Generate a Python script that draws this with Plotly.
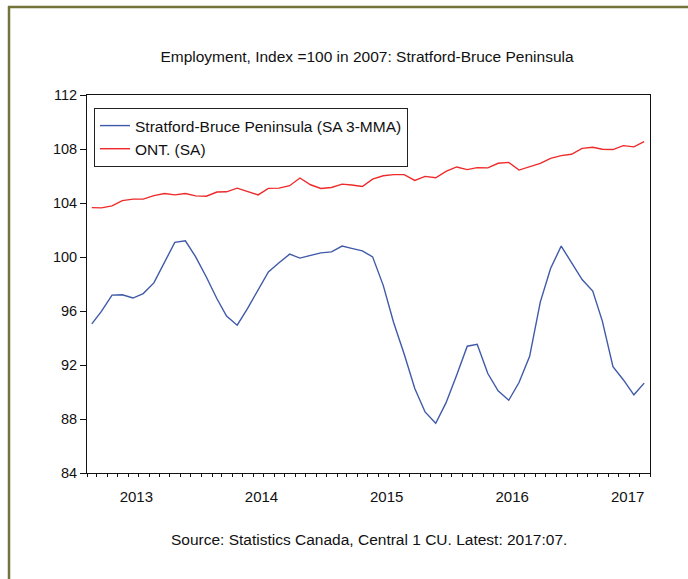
import pandas as pd
import plotly.graph_objects as go

# ---- data (monthly, Feb 2013 .. Jul 2017) ----
months = pd.date_range("2013-02-01", "2017-07-01", freq="MS") + pd.Timedelta(days=14)

stratford = [95.05, 95.97, 97.18, 97.20, 96.96, 97.29, 98.08, 99.59, 101.08, 101.20,
             100.01, 98.52, 96.91, 95.62, 94.95, 96.17, 97.58, 98.90, 99.57, 100.21,
             99.92, 100.11, 100.31, 100.38, 100.81, 100.64, 100.46, 100.01, 97.90, 95.17,
             92.82, 90.26, 88.52, 87.68, 89.19, 91.25, 93.39, 93.53, 91.37, 90.09,
             89.39, 90.70, 92.64, 96.66, 99.15, 100.81, 99.64, 98.33, 97.48, 95.25,
             91.87, 90.91, 89.79, 90.66]

ontario = [103.66, 103.64, 103.79, 104.18, 104.29, 104.29, 104.55, 104.70, 104.60, 104.70,
           104.53, 104.50, 104.81, 104.83, 105.10, 104.85, 104.60, 105.08, 105.10, 105.28,
           105.85, 105.35, 105.08, 105.15, 105.40, 105.33, 105.22, 105.77, 106.02, 106.10,
           106.10, 105.67, 105.97, 105.87, 106.34, 106.67, 106.47, 106.62, 106.60, 106.94,
           107.01, 106.44, 106.67, 106.94, 107.31, 107.51, 107.61, 108.05, 108.13, 107.98,
           107.96, 108.25, 108.16, 108.55]

series_names = ["Stratford-Bruce Peninsula (SA 3-MMA)", "ONT. (SA)"]
series_colors = ["#3f5aa8", "#ee2a2a"]

year_labels = ["2013", "2014", "2015", "2016", "2017"]
year_label_pos = ["2013-06-25", "2014-06-25", "2015-06-25", "2016-06-25", "2017-05-28"]
year_starts = ["2014-01-01", "2015-01-01", "2016-01-01", "2017-01-01"]
month_bounds = pd.date_range("2013-02-01", "2017-08-01", freq="MS")

y_ticks = [84, 88, 92, 96, 100, 104, 108, 112]

title_text = "Employment, Index =100 in 2007: Stratford-Bruce Peninsula"
source_text = "Source: Statistics Canada, Central 1 CU. Latest: 2017:07."

FONT = "Liberation Sans, Arial, sans-serif"
TXT = "#111111"
x_range = ["2013-02-01", "2017-08-01"]

fig = go.Figure()
fig.add_trace(go.Scatter(x=months, y=stratford, mode="lines", name=series_names[0],
                         line=dict(color=series_colors[0], width=1.4)))
fig.add_trace(go.Scatter(x=months, y=ontario, mode="lines", name=series_names[1],
                         line=dict(color=series_colors[1], width=1.4)))
# invisible helper trace for the year-label axis
fig.add_trace(go.Scatter(x=[months[0]], y=[ontario[0]], xaxis="x2", mode="markers",
                         marker=dict(opacity=0), showlegend=False, hoverinfo="skip"))

# plot area in pixels: x 87..650, y 95..473
L, R, T, B = 87, 38, 95, 106
W, H = 688, 579
pw, ph = W - L - R, H - T - B

def px_x(p):
    return (p - L) / pw

def px_y(p):
    return (H - B - p) / ph

olive = "#74743a"
fig.add_shape(type="line", xref="paper", yref="paper",
              x0=px_x(8), x1=px_x(690), y0=px_y(7), y1=px_y(7),
              line=dict(color=olive, width=2.5))
fig.add_shape(type="line", xref="paper", yref="paper",
              x0=px_x(9), x1=px_x(9), y0=px_y(6), y1=px_y(581),
              line=dict(color=olive, width=2.5))

fig.update_layout(
    width=W, height=H,
    margin=dict(l=L, r=R, t=T, b=B),
    paper_bgcolor="white", plot_bgcolor="white",
    font=dict(family=FONT, size=15, color=TXT),
    title=dict(text=title_text, x=367 / W, xanchor="center",
               y=1 - 57 / H, yanchor="middle", yref="container",
               font=dict(size=15.5, family=FONT, color=TXT)),
    showlegend=True,
    legend=dict(x=px_x(94), y=px_y(108), xanchor="left", yanchor="top",
                bordercolor="#222222", borderwidth=1, bgcolor="white",
                font=dict(size=15.5, family=FONT, color=TXT),
                itemwidth=30, tracegroupgap=0),
    xaxis=dict(type="date", range=x_range, showgrid=False, zeroline=False,
               showline=True, linecolor="#111111", linewidth=1, mirror=True,
               tickvals=year_starts, ticktext=["" for _ in year_starts],
               ticks="outside", ticklen=7, tickcolor="#111111", tickwidth=1,
               minor=dict(tickvals=list(month_bounds), ticks="outside", ticklen=3,
                          tickcolor="#111111", tickwidth=1, showgrid=False)),
    xaxis2=dict(type="date", range=x_range, overlaying="x", anchor="y", side="bottom",
                showgrid=False, zeroline=False, showline=False,
                tickvals=year_label_pos, ticktext=year_labels, ticks="",
                ticklabelstandoff=13,
                tickfont=dict(size=15, family=FONT, color=TXT)),
    yaxis=dict(range=[84, 112], tickvals=y_ticks, showgrid=False, zeroline=False,
               showline=True, linecolor="#111111", linewidth=1, mirror=True,
               ticks="outside", ticklen=6, tickcolor="#111111",
               tickfont=dict(size=14.5, family=FONT, color=TXT)),
)

fig.add_annotation(text=source_text, xref="paper", yref="paper",
                   x=px_x(369), y=px_y(539), xanchor="center", yanchor="middle",
                   showarrow=False, font=dict(size=15.5, family=FONT, color=TXT))

fig.write_html("out.html",
               config={"displayModeBar": False},
               post_script="document.body.style.margin='0px';document.body.style.padding='0px';")
